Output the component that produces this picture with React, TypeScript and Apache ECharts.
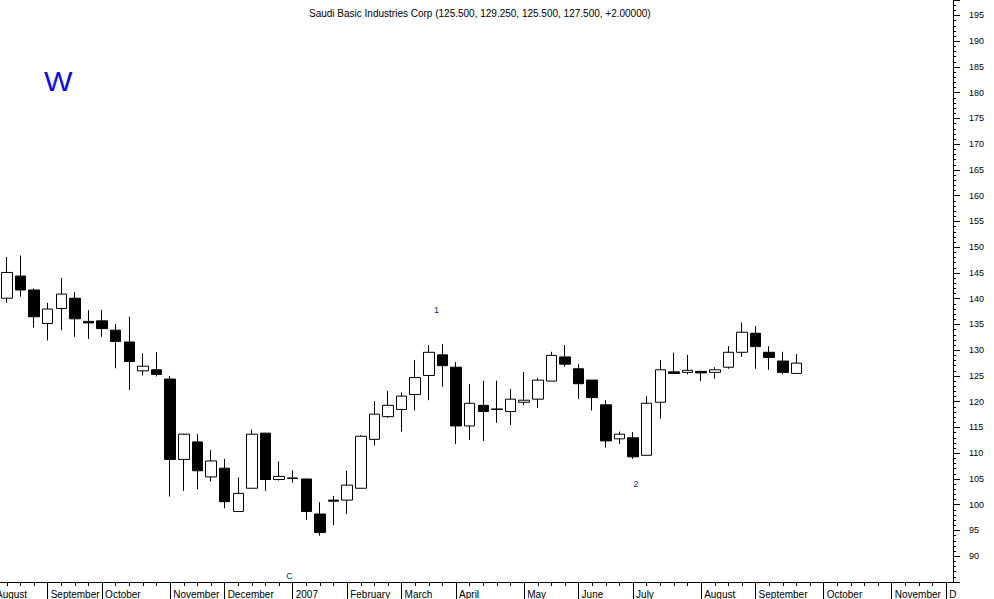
import React, { useEffect, useRef } from "react";
import * as echarts from "echarts";

// Weekly candles (first entry = first visible week, mid August 2006)
const opens = [
  140.1, 144.4, 141.7, 135.2, 138.1, 140.1, 135.6, 135.7, 133.9, 131.6,
  126.0, 126.2, 124.4, 108.8, 112.2, 105.4, 107.1, 98.7, 103.2, 113.9,
  104.9, 105.2, 105.0, 98.2, 100.9, 100.9, 103.2, 112.7, 117.1, 118.5,
  121.4, 125.1, 129.1, 126.7, 115.3, 119.3, 118.6, 118.1, 119.9, 120.5,
  124.0, 128.7, 126.4, 124.2, 119.4, 112.8, 113.0, 109.6, 119.9, 125.8,
  125.7, 125.9, 125.7, 126.7, 129.6, 133.3, 129.6, 127.9, 125.5,
];
const closes = [
  145.1, 141.7, 136.5, 138.0, 140.9, 136.1, 135.3, 134.2, 131.7, 127.8,
  126.9, 125.3, 108.8, 113.7, 106.6, 108.5, 100.6, 102.2, 113.7, 104.9,
  105.5, 105.1, 98.7, 94.6, 100.7, 103.8, 113.3, 117.6, 119.3, 121.1,
  124.7, 129.6, 127.0, 115.3, 119.7, 118.1, 118.5, 120.5, 120.3, 124.2,
  129.0, 127.3, 123.5, 120.8, 112.4, 113.7, 109.3, 119.7, 126.2, 125.5,
  126.1, 125.6, 126.2, 129.6, 133.5, 130.7, 128.6, 125.7, 127.5,
];
const lows = [
  139.2, 140.4, 134.4, 131.9, 133.9, 132.6, 132.2, 132.6, 126.5, 122.3,
  125.1, 124.9, 101.6, 102.7, 103.0, 104.5, 99.3, 98.7, 103.2, 102.7,
  104.7, 104.3, 97.1, 94.0, 96.0, 98.2, 103.2, 111.5, 116.9, 114.2,
  118.3, 120.3, 122.9, 111.8, 112.6, 112.4, 115.9, 115.5, 119.4, 118.8,
  124.0, 126.8, 120.5, 118.3, 111.1, 111.8, 108.9, 109.6, 116.7, 125.5,
  125.3, 124.0, 124.5, 126.4, 128.7, 126.4, 126.2, 125.3, 125.5,
];
const highs = [
  148.1, 148.4, 142.0, 139.2, 144.0, 141.3, 137.8, 137.8, 135.1, 136.5,
  129.4, 129.6, 125.0, 113.8, 113.7, 110.6, 108.9, 105.3, 114.6, 113.9,
  108.4, 106.7, 105.0, 100.5, 101.7, 106.6, 113.5, 120.1, 122.1, 121.8,
  128.1, 131.0, 131.2, 127.7, 123.4, 124.1, 124.1, 122.5, 125.8, 124.6,
  129.7, 131.0, 127.3, 124.2, 120.3, 114.2, 114.1, 121.1, 128.1, 129.5,
  129.1, 126.0, 126.7, 130.8, 135.4, 134.7, 130.8, 129.7, 129.25,
];

// Month labels and the number of weekly slots each spans on the axis
// (the first, August, started one week before the visible range)
const leadingMonth = "August";
const monthNames = [
  "", "September", "October", "November", "December", "2007",
  "February", "March", "April", "May", "June", "July", "August",
  "September", "October", "November", "D",
];
const monthWeeks = [3, 4, 5, 4, 5, 4, 4, 4, 5, 4, 4, 5, 4, 5, 5, 4, 1];

const titleText =
  "Saudi Basic Industries Corp (125.500, 129.250, 125.500, 127.500, +2.00000)";

export default function App() {
  const ref = useRef<HTMLDivElement>(null);

  useEffect(() => {
    if (!ref.current) return;
    document.body.style.margin = "0";
    const chart = echarts.init(ref.current, null, { renderer: "svg" });

    const categories: string[] = [];
    const isMonthStart: boolean[] = [];
    monthNames.forEach((m, mi) => {
      for (let w = 0; w < monthWeeks[mi]; w++) {
        categories.push(w === 0 ? m : "");
        isMonthStart.push(w === 0 && m !== "");
      }
    });

    const data: any[] = [];
    for (let i = 0; i < opens.length; i++) {
      data.push([opens[i], closes[i], lows[i], highs[i]]);
    }
    while (data.length < categories.length) data.push(["-", "-", "-", "-"]);

    const font = "Liberation Sans, Arial, sans-serif";

    chart.setOption({
      animation: false,
      backgroundColor: "#ffffff",
      title: {
        text: titleText,
        left: 304,
        top: 3,
        textStyle: {
          fontSize: 10,
          fontWeight: "normal",
          color: "#000",
          fontFamily: font,
        },
      },
      grid: {
        left: 0,
        top: 0,
        width: 953,
        height: 582,
        containLabel: false,
      },
      xAxis: [
        {
          type: "category",
          data: categories,
          boundaryGap: true,
          axisLine: { show: true, lineStyle: { color: "#000", width: 1 } },
          axisTick: {
            show: true,
            alignWithLabel: true,
            interval: 0,
            length: 4,
            lineStyle: { color: "#000" },
          },
          axisLabel: { show: false },
          splitLine: { show: false },
        },
        {
          type: "category",
          data: categories,
          position: "bottom",
          boundaryGap: true,
          axisLine: { show: false },
          axisTick: {
            show: true,
            alignWithLabel: true,
            interval: (i: number) => isMonthStart[i],
            length: 17,
            lineStyle: { color: "#000" },
          },
          axisLabel: {
            show: true,
            interval: (i: number) => isMonthStart[i],
            align: "left",
            padding: [0, 0, 0, 3],
            margin: 7,
            fontSize: 10,
            color: "#000",
            fontFamily: font,
          },
          splitLine: { show: false },
        },
      ],
      yAxis: {
        type: "value",
        position: "right",
        min: 85,
        max: 198,
        interval: 5,
        axisLine: { show: true, lineStyle: { color: "#000", width: 1 } },
        axisTick: { show: true, length: 7, lineStyle: { color: "#000" } },
        minorTick: {
          show: true,
          splitNumber: 5,
          length: 3,
          lineStyle: { color: "#000" },
        },
        splitLine: { show: false },
        minorSplitLine: { show: false },
        axisLabel: {
          margin: 16,
          fontSize: 9,
          color: "#000",
          fontFamily: font,
          showMinLabel: false,
          showMaxLabel: false,
        },
      },
      series: [
        {
          type: "candlestick",
          xAxisIndex: 0,
          data,
          barWidth: 11,
          itemStyle: {
            color: "#ffffff",
            color0: "#000000",
            borderColor: "#000000",
            borderColor0: "#000000",
            borderWidth: 1,
          },
        },
      ],
      graphic: [
        {
          type: "text",
          x: -4,
          y: 589,
          style: {
            text: leadingMonth,
            fontSize: 10,
            fontFamily: font,
            fill: "#000",
          },
        },
        {
          type: "text",
          x: 44,
          y: 82,
          scaleX: 1.12,
          style: {
            text: "W",
            fontSize: 27,
            fontFamily: font,
            fill: "#0a0ae6",
            textVerticalAlign: "middle",
          },
        },
        {
          type: "text",
          x: 436.5,
          y: 309.5,
          style: {
            text: "1",
            fontSize: 9,
            fontFamily: font,
            fill: "#1a1a8c",
            textAlign: "center",
            textVerticalAlign: "middle",
          },
        },
        {
          type: "text",
          x: 636,
          y: 483.5,
          style: {
            text: "2",
            fontSize: 9,
            fontFamily: font,
            fill: "#1a1a8c",
            textAlign: "center",
            textVerticalAlign: "middle",
          },
        },
        {
          type: "text",
          x: 289.5,
          y: 575.5,
          style: {
            text: "C",
            fontSize: 9,
            fontFamily: font,
            fill: "#1a1a8c",
            textAlign: "center",
            textVerticalAlign: "middle",
          },
        },
      ],
    });

    return () => chart.dispose();
  }, []);

  return (
    <div
      ref={ref}
      style={{
        position: "fixed",
        left: 0,
        top: 0,
        width: 994,
        height: 599,
        background: "#fff",
      }}
    />
  );
}
